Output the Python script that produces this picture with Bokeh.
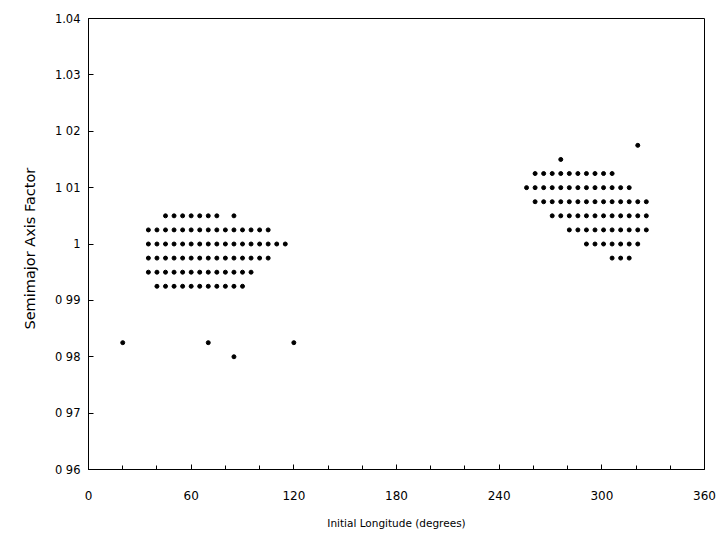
from bokeh.plotting import figure
from bokeh.models import FixedTicker, ColumnDataSource
from bokeh.embed import file_html
from bokeh.resources import INLINE

# Data (initial longitude in degrees, semimajor axis factor)
rows_left = [
    (1.0050, [45, 50, 55, 60, 65, 70, 75, 85]),
    (1.0025, [35, 40, 45, 50, 55, 60, 65, 70, 75, 80, 85, 90, 95, 100, 105]),
    (1.0000, [35, 40, 45, 50, 55, 60, 65, 70, 75, 80, 85, 90, 95, 100, 105, 110, 115]),
    (0.9975, [35, 40, 45, 50, 55, 60, 65, 70, 75, 80, 85, 90, 95, 100, 105]),
    (0.9950, [35, 40, 45, 50, 55, 60, 65, 70, 75, 80, 85, 90, 95]),
    (0.9925, [40, 45, 50, 55, 60, 65, 70, 75, 80, 85, 90]),
]
rows_right = [
    (1.0175, [321]),
    (1.0150, [276]),
    (1.0125, [261, 266, 271, 276, 281, 286, 291, 296, 301, 306]),
    (1.0100, [256, 261, 266, 271, 276, 281, 286, 291, 296, 301, 306, 311, 316]),
    (1.0075, [261, 266, 271, 276, 281, 286, 291, 296, 301, 306, 311, 316, 321, 326]),
    (1.0050, [271, 276, 281, 286, 291, 296, 301, 306, 311, 316, 321, 326]),
    (1.0025, [281, 286, 291, 296, 301, 306, 311, 316, 321, 326]),
    (1.0000, [291, 296, 301, 306, 311, 316, 321]),
    (0.9975, [306, 311, 316]),
]
outlier_lon = [20, 70, 85, 120]
outlier_a = [0.9825, 0.9825, 0.9800, 0.9825]

x_ticks = [0, 60, 120, 180, 240, 300, 360]
x_minor = [20, 40, 80, 100, 140, 160, 200, 220, 260, 280, 320, 340]
y_ticks = [0.96, 0.97, 0.98, 0.99, 1.00, 1.01, 1.02, 1.03, 1.04]
y_labels = ["0 96", "0 97", "0 98", "0 99", "1", "1 01", "1 02", "1.03", "1.04"]

lon, a = [], []
for val, xs in rows_left + rows_right:
    for xv in xs:
        lon.append(xv)
        a.append(val)
lon += outlier_lon
a += outlier_a
src = ColumnDataSource(dict(lon=lon, a=a))

FONT = "DejaVu Sans"

p = figure(width=727, height=536, output_backend="svg", toolbar_location=None,
           x_range=(0, 360), y_range=(0.96, 1.04),
           min_border_left=88, min_border_right=23, min_border_top=18, min_border_bottom=67)
p.scatter("lon", "a", source=src, size=4, color="black")

p.grid.visible = False
p.outline_line_color = "black"
p.outline_line_width = 1
p.background_fill_color = "white"
p.border_fill_color = "white"

p.xaxis.ticker = FixedTicker(ticks=x_ticks, minor_ticks=x_minor)
p.yaxis.ticker = FixedTicker(ticks=y_ticks, minor_ticks=[])
p.yaxis.major_label_overrides = {t: l for t, l in zip(y_ticks, y_labels)}

for ax in (p.xaxis[0], p.yaxis[0]):
    ax.major_tick_in = 5
    ax.major_tick_out = 0
    ax.minor_tick_in = 4
    ax.minor_tick_out = 0
    ax.axis_line_color = "black"
    ax.major_tick_line_color = "black"
    ax.minor_tick_line_color = "black"
    ax.major_label_text_font = FONT
    ax.major_label_text_color = "black"
    ax.axis_label_text_font = FONT
    ax.axis_label_text_font_style = "normal"
    ax.axis_label_text_color = "black"

p.xaxis.major_label_text_font_size = "12px"
p.yaxis.major_label_text_font_size = "11.5px"

p.xaxis.axis_label = "Initial Longitude (degrees)"
p.xaxis.axis_label_text_font_size = "10.5px"
p.xaxis.major_label_standoff = 21
p.xaxis.axis_label_standoff = 14

p.yaxis.axis_label = "Semimajor  Axis  Factor"
p.yaxis.axis_label_text_font_size = "14.5px"
p.yaxis.major_label_standoff = 8
p.yaxis.axis_label_standoff = 14

open("out.html", "w").write(file_html(p, INLINE))
